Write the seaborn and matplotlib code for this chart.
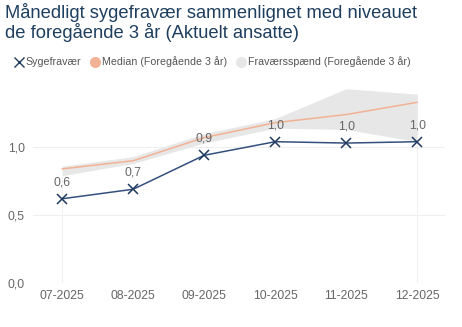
import matplotlib
matplotlib.use("Agg")
import matplotlib.pyplot as plt
from matplotlib.lines import Line2D
import seaborn as sns
import pandas as pd
import numpy as np

months = ["07-2025", "08-2025", "09-2025", "10-2025", "11-2025", "12-2025"]
sygefravaer = [0.62, 0.69, 0.94, 1.04, 1.03, 1.04]
median_3aar = [0.84, 0.90, 1.07, 1.18, 1.24, 1.33]
spaend_min = [0.79, 0.88, 1.03, 1.14, 1.13, 1.04]
spaend_max = [0.86, 0.93, 1.10, 1.21, 1.43, 1.39]
yticks = [0.0, 0.5, 1.0]

sns.set_theme(style="white")
plt.rcParams["font.family"] = ["Liberation Sans", "DejaVu Sans"]

df = pd.DataFrame({
    "pos": np.arange(len(months)),
    "month": months,
    "syge": sygefravaer,
    "median": median_3aar,
    "lo": spaend_min,
    "hi": spaend_max,
})

W, H = 462, 327
fig = plt.figure(figsize=(W / 100, H / 100), dpi=100)
ax = fig.add_axes([33 / W, (H - 283) / H, 412 / W, (283 - 86) / H])

navy = "#34507c"
orange = "#f2b295"
band = "#e7e7e7"
txt = "#666666"

ax.fill_between(df["pos"], df["lo"], df["hi"], color=band, lw=0, zorder=1)
# faint edges of the range area down to the baseline
ends = [0, len(months) - 1]
ax.vlines(df["pos"].iloc[ends], 0, df["lo"].iloc[ends], color="#f5eeee", lw=0.8, zorder=0.5)
sns.lineplot(data=df, x="pos", y="median", color=orange, lw=1.1, ax=ax, zorder=2)
sns.lineplot(data=df, x="pos", y="syge", color=navy, lw=1.1, marker="x",
             markersize=6.5, markeredgewidth=1.1, markeredgecolor="#1f3a5f", ax=ax, zorder=3)

for x, v in zip(df["pos"], df["syge"]):
    ax.annotate(f"{v:.1f}".replace(".", ","), (x, v), xytext=(0, 7.5),
                textcoords="offset points", ha="center", va="bottom",
                fontsize=8.8, color=txt, zorder=4)

ax.set_xlim(-0.41, 5.39)
ax.set_ylim(0, 1.45)
ax.set_xticks(df["pos"])
ax.set_xticklabels(months)
ax.set_yticks(yticks)
ax.set_yticklabels([f"{t:.1f}".replace(".", ",") for t in yticks])
ax.tick_params(axis="x", length=0, pad=5, labelsize=8.7, labelcolor=txt)
ax.tick_params(axis="y", length=0, pad=6, labelsize=8.7, labelcolor=txt)
ax.set_xlabel("")
ax.set_ylabel("")
ax.grid(axis="y", color="#efefef", lw=0.8)
ax.set_axisbelow(True)
for s in ax.spines.values():
    s.set_visible(False)

title_color = "#1f3f5f"
fig.text(5 / W, 1 - 3 / H, "Månedligt sygefravær sammenlignet med niveauet",
         fontsize=13.2, color=title_color, va="top", ha="left")
fig.text(5 / W, 1 - 23 / H, "de foregående 3 år (Aktuelt ansatte)",
         fontsize=13.2, color=title_color, va="top", ha="left")

handles = [
    Line2D([], [], ls="none", marker="x", markersize=7, markeredgewidth=1.0,
           color="#1f3a5f"),
    Line2D([], [], ls="none", marker="o", markersize=7, color=orange),
    Line2D([], [], ls="none", marker="o", markersize=7, color=band),
]
labels = ["Sygefravær", "Median (Foregående 3 år)", "Fraværsspænd (Foregående 3 år)"]
fig.legend(handles, labels, loc="center left", bbox_to_anchor=(14 / W, 1 - 62 / H),
           ncol=3, frameon=False, fontsize=7.7, labelcolor="#555555",
           handlelength=0.9, handletextpad=0.15, columnspacing=0.9, borderaxespad=0,
           borderpad=0)

fig.savefig("out.png", dpi=100)
